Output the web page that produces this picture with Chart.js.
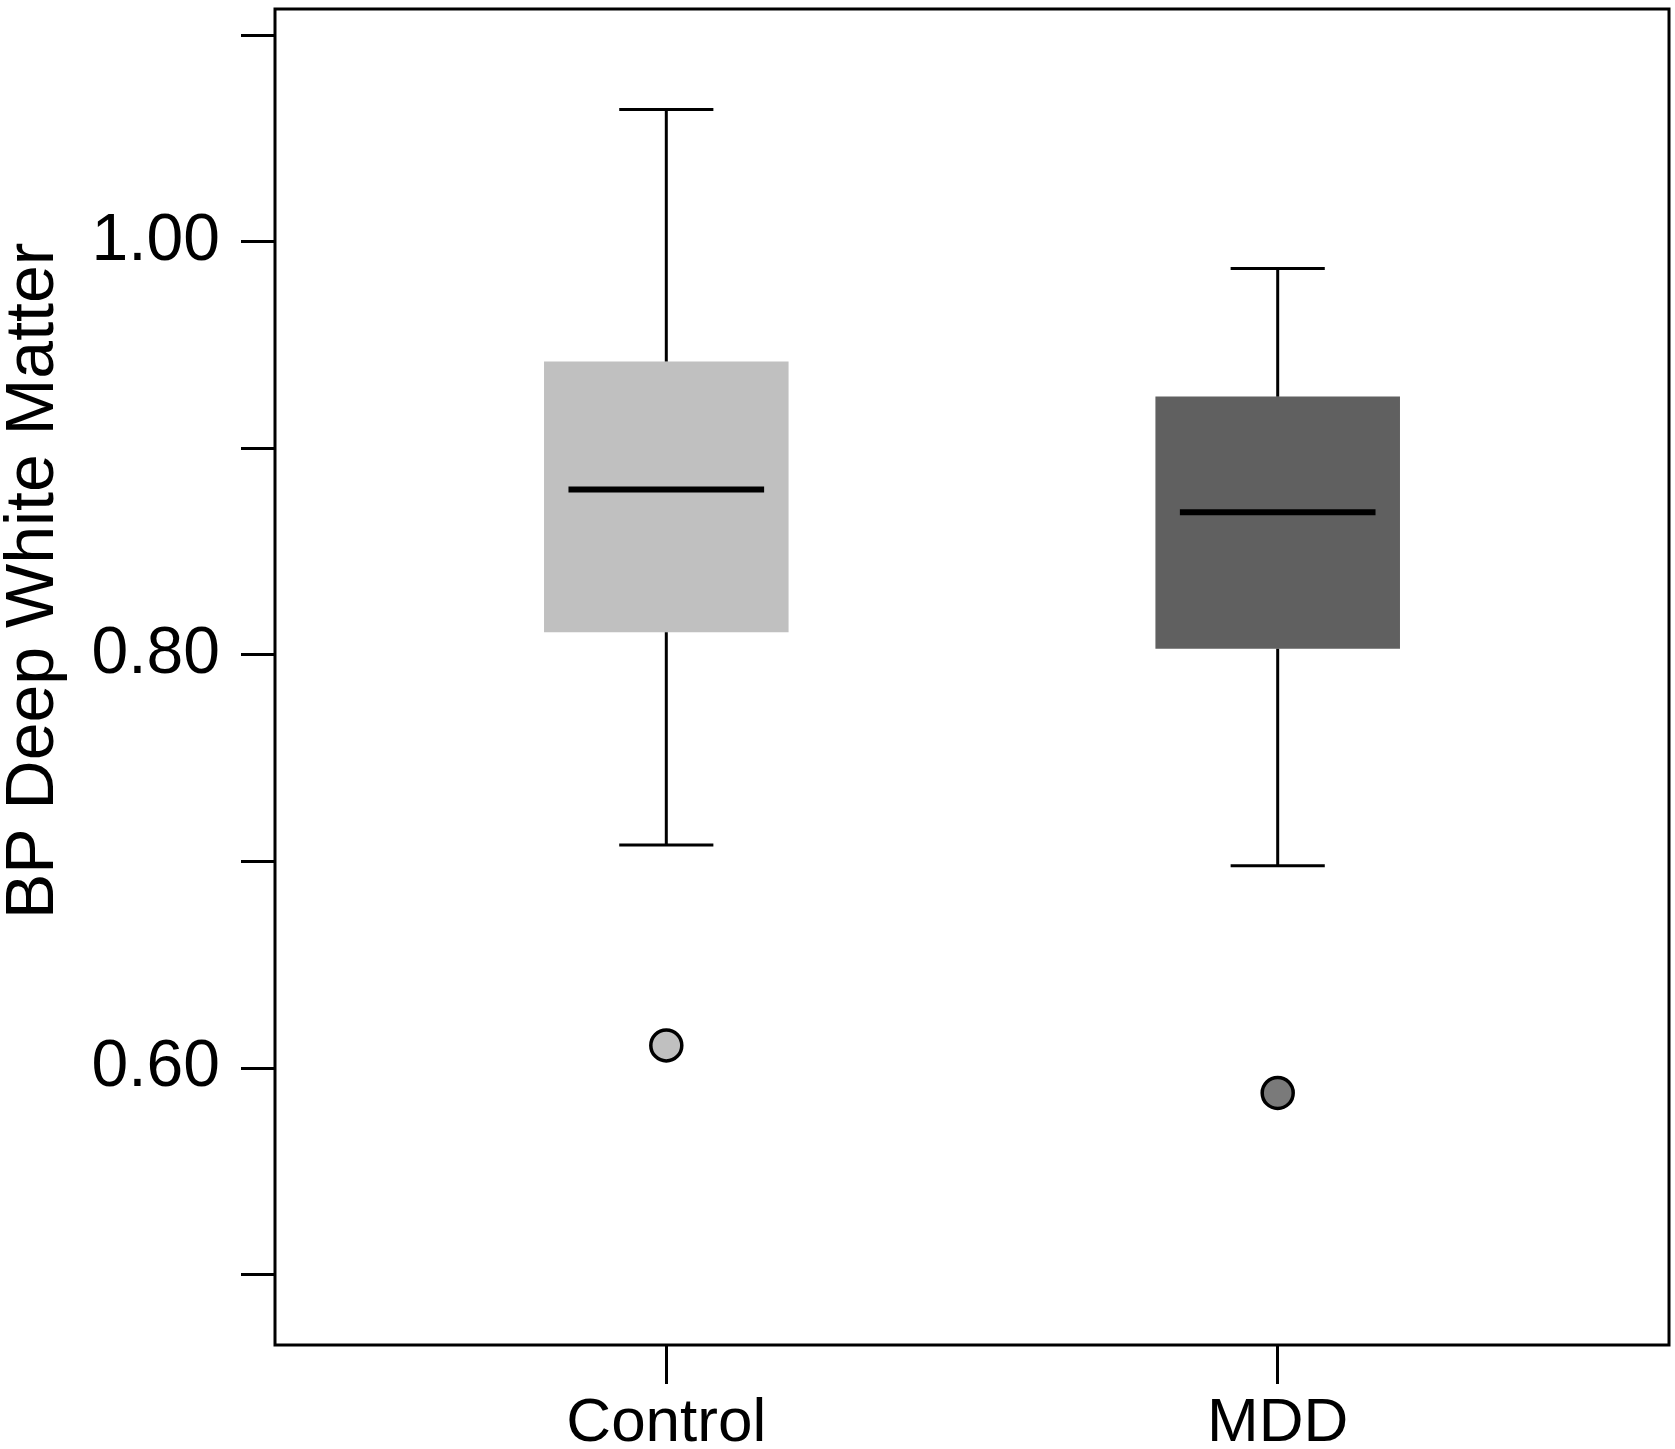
<!DOCTYPE html>
<html>
<head>
<meta charset="utf-8">
<title>BP Deep White Matter</title>
<script src="https://cdn.jsdelivr.net/npm/chart.js@4.4.1/dist/chart.umd.min.js"></script>
<style>
  html, body { margin: 0; padding: 0; background: #ffffff; }
  canvas { display: block; }
</style>
</head>
<body>
<canvas id="boxChart" width="1675" height="1449"></canvas>
<script>
// groups and their box statistics
const categories = ["Control", "MDD"];
const whiskerLow = [0.708, 0.698];
const q1 = [0.811, 0.803];
const median = [0.880, 0.869];
const q3 = [0.942, 0.925];
const whiskerHigh = [1.064, 0.987];
const outliers = [0.611, 0.588];

// y axis ticks
const yTicks = [0.5, 0.6, 0.7, 0.8, 0.9, 1.0, 1.1];
const yTickLabels = ["", "0.60", "", "0.80", "", "1.00", ""];

const boxColors = ["#c0c0c0", "#606060"];
const outlierColors = ["#c0c0c0", "#7a7a7a"];
const FONT = "'Liberation Sans', Arial, Helvetica, sans-serif";
const CAP = 0.077;     // half width of whisker caps (x units)
const MED = 0.16;      // half width of median line (x units)

function segment(points, width) {
  return {
    type: "line",
    data: points,
    borderColor: "#000000",
    borderWidth: width,
    pointRadius: 0,
    fill: false,
    order: 0
  };
}

const datasets = [];
categories.forEach((c, i) => {
  datasets.push(segment([{ x: i, y: q3[i] }, { x: i, y: whiskerHigh[i] }], 3));
  datasets.push(segment([{ x: i, y: q1[i] }, { x: i, y: whiskerLow[i] }], 3));
  datasets.push(segment([{ x: i - CAP, y: whiskerHigh[i] }, { x: i + CAP, y: whiskerHigh[i] }], 3));
  datasets.push(segment([{ x: i - CAP, y: whiskerLow[i] }, { x: i + CAP, y: whiskerLow[i] }], 3));
  datasets.push(segment([{ x: i - MED, y: median[i] }, { x: i + MED, y: median[i] }], 6));
});

datasets.push({
  type: "scatter",
  data: categories.map((c, i) => ({ x: i, y: outliers[i] })),
  pointRadius: 15.5,
  pointBorderWidth: 3.5,
  pointBorderColor: "#000000",
  pointBackgroundColor: outlierColors,
  order: 0
});

datasets.push({
  type: "bar",
  data: categories.map((c, i) => ({ x: i, y: [q1[i], q3[i]] })),
  backgroundColor: boxColors,
  borderWidth: 0,
  barPercentage: 0.40,
  categoryPercentage: 1,
  order: 10
});

// frame around the plot area and the rotated y title
const framePlugin = {
  id: "frame",
  afterDraw(chart) {
    const { ctx, chartArea: a } = chart;
    ctx.save();
    ctx.strokeStyle = "#000000";
    ctx.lineWidth = 3;
    ctx.strokeRect(a.left, a.top, a.right - a.left, a.bottom - a.top);

    ctx.translate(53, a.top + (a.bottom - a.top) * 0.428);
    ctx.rotate(-Math.PI / 2);
    ctx.font = "68px " + FONT;
    ctx.fillStyle = "#000000";
    ctx.textAlign = "center";
    ctx.textBaseline = "alphabetic";
    ctx.fillText("BP Deep White Matter", 0, 0);
    ctx.restore();
  }
};

new Chart(document.getElementById("boxChart"), {
  type: "scatter",
  data: { datasets: datasets },
  options: {
    responsive: false,
    animation: false,
    devicePixelRatio: 1,
    layout: { autoPadding: false, padding: { top: 9, right: 6, left: 0, bottom: 0 } },
    plugins: {
      legend: { display: false },
      tooltip: { enabled: false }
    },
    scales: {
      x: {
        type: "linear",
        min: -0.64,
        max: 1.64,
        offset: false,
        afterBuildTicks: (scale) => {
          scale.ticks = categories.map((c, i) => ({ value: i }));
        },
        afterFit: (scale) => {
          scale.height = 1449 - 1345;
          scale.paddingLeft = 0;
          scale.paddingRight = 0;
        },
        ticks: {
          callback: (v, i) => categories[i],
          color: "#000000",
          font: { family: FONT, size: 62 },
          padding: 3,
          maxRotation: 0,
          autoSkip: false
        },
        grid: {
          display: true,
          offset: false,
          drawOnChartArea: false,
          drawTicks: true,
          tickLength: 39,
          tickWidth: 3,
          tickColor: "#000000"
        },
        border: { display: false }
      },
      y: {
        type: "linear",
        min: 0.466,
        max: 1.1126,
        afterBuildTicks: (scale) => {
          scale.ticks = yTicks.map(v => ({ value: v }));
        },
        afterFit: (scale) => {
          scale.width = 275;
          scale.paddingTop = 0;
          scale.paddingBottom = 0;
        },
        ticks: {
          callback: (v, i) => yTickLabels[i],
          color: "#000000",
          font: { family: FONT, size: 66 },
          padding: 21,
          autoSkip: false
        },
        grid: {
          display: true,
          drawOnChartArea: false,
          drawTicks: true,
          tickLength: 34,
          tickWidth: 3,
          tickColor: "#000000"
        },
        border: { display: false }
      }
    }
  },
  plugins: [framePlugin]
});
</script>
</body>
</html>
